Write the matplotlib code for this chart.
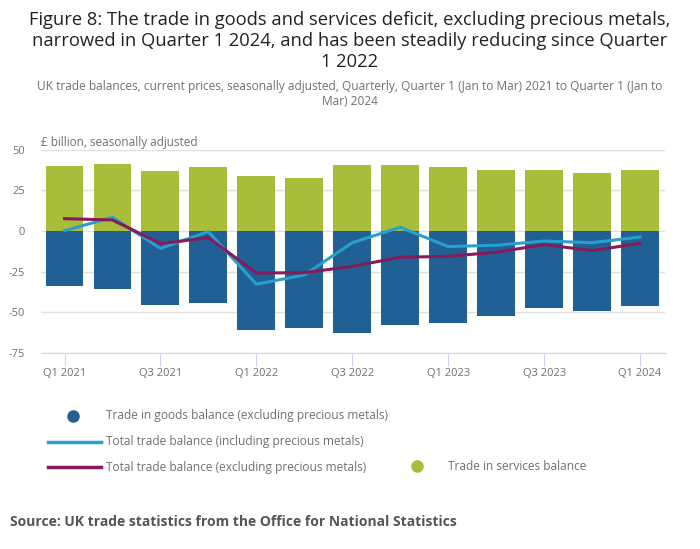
import matplotlib.pyplot as plt
from matplotlib.lines import Line2D
import numpy as np

plt.rcParams['font.family'] = ['Open Sans', 'DejaVu Sans']

quarters = ['Q1 2021', 'Q2 2021', 'Q3 2021', 'Q4 2021', 'Q1 2022', 'Q2 2022', 'Q3 2022',
            'Q4 2022', 'Q1 2023', 'Q2 2023', 'Q3 2023', 'Q4 2023', 'Q1 2024']
goods = [-33.7, -35.7, -45.4, -44.1, -61.0, -59.5, -62.6, -57.9, -56.7, -52.3, -47.4, -49.3, -46.0]
services = [40.0, 41.3, 36.9, 39.4, 33.9, 32.6, 40.6, 40.6, 39.4, 37.6, 37.6, 35.7, 37.6]
total_incl = [0.2, 8.4, -10.7, -0.4, -32.8, -27.1, -7.2, 2.3, -9.6, -8.8, -6.2, -7.2, -3.7]
total_excl = [7.6, 6.8, -7.8, -4.1, -25.9, -25.7, -21.8, -16.2, -15.6, -13.1, -8.4, -12.1, -7.6]

c_goods = '#206095'
c_serv = '#a8bd3a'
c_incl = '#27a0cc'
c_excl = '#871a5b'
grey = '#707070'

fig = plt.figure(figsize=(7, 5.49), dpi=100)
ax = fig.add_axes([0.0586, 0.3576, 0.8914, 0.3694])

x = np.arange(len(quarters))
ax.bar(x, services, width=0.79, color=c_serv, zorder=2)
ax.bar(x, goods, width=0.79, color=c_goods, zorder=2)
ax.plot(x, total_incl, color=c_incl, lw=2.2, zorder=3)
ax.plot(x, total_excl, color=c_excl, lw=2.2, zorder=4)

ax.set_xlim(-0.49, 12.52)
ax.set_ylim(-75, 50)
ax.set_yticks([-75, -50, -25, 0, 25, 50])
ax.set_yticklabels(['-75', '-50', '-25', '0', '25', '50'])
ax.set_xticks(x[::2])
ax.set_xticklabels(quarters[::2])
ax.grid(axis='y', color='#e0e0e0', lw=1, zorder=0)
for s in ['top', 'right', 'left']:
    ax.spines[s].set_visible(False)
ax.spines['bottom'].set_color('#ccd6eb')
ax.tick_params(axis='y', length=0, labelsize=8, labelcolor=grey, pad=11.5)
ax.tick_params(axis='x', length=9, color='#ccd6eb', labelsize=8, labelcolor=grey, pad=2)

fig.text(0.5, 1 - 41 / 549, 'Figure 8: The trade in goods and services deficit, excluding precious metals,\n'
         'narrowed in Quarter 1 2024, and has been steadily reducing since Quarter\n1 2022',
         ha='center', va='center', fontsize=13.2, color='#222222', linespacing=1.2)
fig.text(0.5, 1 - 94 / 549, 'UK trade balances, current prices, seasonally adjusted, Quarterly, Quarter 1 (Jan to Mar) 2021 to Quarter 1 (Jan to\nMar) 2024',
         ha='center', va='center', fontsize=8.55, color=grey, linespacing=1.15)
fig.text(41 / 700, 1 - 143 / 549, '£ billion, seasonally adjusted', ha='left', va='center',
         fontsize=8.5, color=grey)

# legend
def fy(py):
    return 1 - py / 549

fig.add_artist(Line2D([73 / 700], [fy(416)], marker='o', ms=8, color=c_goods, lw=0))
fig.text(106 / 700, fy(416), 'Trade in goods balance (excluding precious metals)', va='center', fontsize=8.6, color=grey)
fig.add_artist(Line2D([48 / 700, 101 / 700], [fy(442), fy(442)], color=c_incl, lw=2.5))
fig.text(106 / 700, fy(442), 'Total trade balance (including precious metals)', va='center', fontsize=8.6, color=grey)
fig.add_artist(Line2D([48 / 700, 101 / 700], [fy(467), fy(467)], color=c_excl, lw=2.5))
fig.text(106 / 700, fy(467), 'Total trade balance (excluding precious metals)', va='center', fontsize=8.6, color=grey)
fig.add_artist(Line2D([417 / 700], [fy(466)], marker='o', ms=8, color=c_serv, lw=0))
fig.text(448 / 700, fy(467), 'Trade in services balance', va='center', fontsize=8.6, color=grey)

fig.text(10 / 700, fy(522), 'Source: UK trade statistics from the Office for National Statistics',
         va='center', fontsize=10, fontweight='bold', color='#555555')

fig.savefig('out.png', dpi=100)
